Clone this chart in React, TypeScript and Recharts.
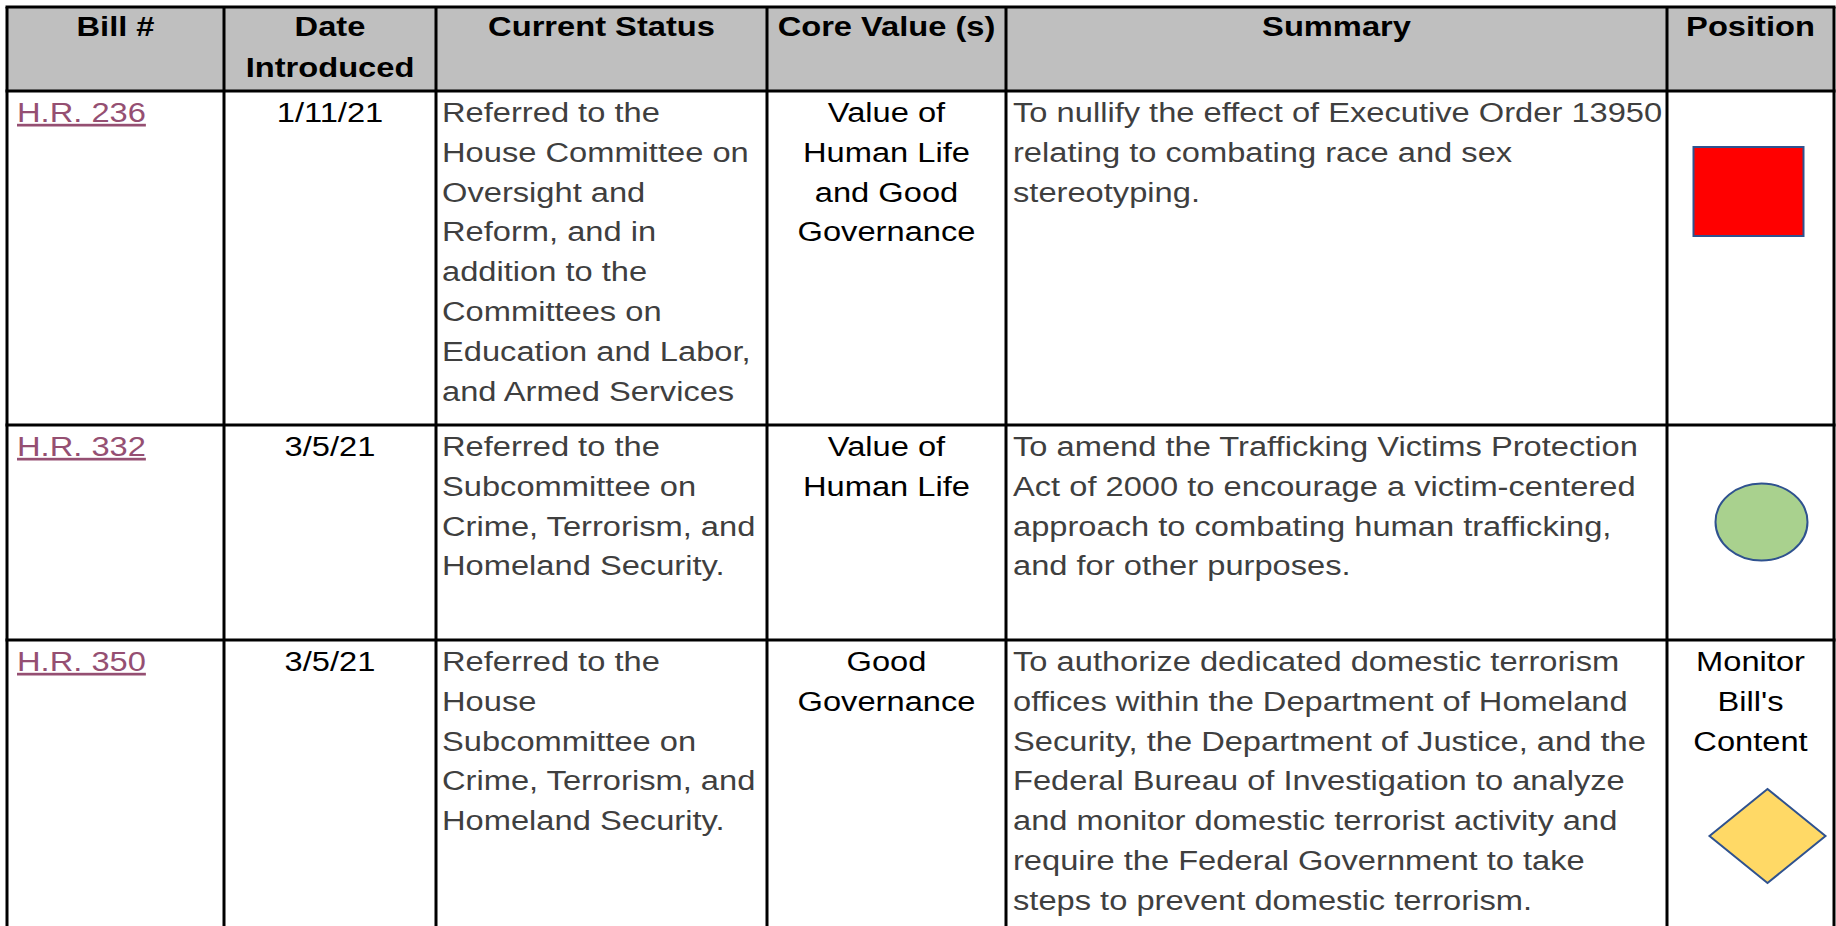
import React from 'react';
import { ScatterChart, Scatter, XAxis, YAxis, ReferenceArea, ReferenceLine } from 'recharts';

// ---------- content ----------
const headers: string[][] = [
  ['Bill #'],
  ['Date', 'Introduced'],
  ['Current Status'],
  ['Core Value (s)'],
  ['Summary'],
  ['Position'],
];
const bills: string[] = ['H.R. 236', 'H.R. 332', 'H.R. 350'];
const dates: string[] = ['1/11/21', '3/5/21', '3/5/21'];
const statuses: string[][] = [
  ['Referred to the', 'House Committee on', 'Oversight and', 'Reform, and in', 'addition to the', 'Committees on', 'Education and Labor,', 'and Armed Services'],
  ['Referred to the', 'Subcommittee on', 'Crime, Terrorism, and', 'Homeland Security.'],
  ['Referred to the', 'House', 'Subcommittee on', 'Crime, Terrorism, and', 'Homeland Security.'],
];
const coreValues: string[][] = [
  ['Value of', 'Human Life', 'and Good', 'Governance'],
  ['Value of', 'Human Life'],
  ['Good', 'Governance'],
];
const summaries: string[][] = [
  ['To nullify the effect of Executive Order 13950', 'relating to combating race and sex', 'stereotyping.'],
  ['To amend the Trafficking Victims Protection', 'Act of 2000 to encourage a victim-centered', 'approach to combating human trafficking,', 'and for other purposes.'],
  ['To authorize dedicated domestic terrorism', 'offices within the Department of Homeland', 'Security, the Department of Justice, and the', 'Federal Bureau of Investigation to analyze', 'and monitor domestic terrorist activity and', 'require the Federal Government to take', 'steps to prevent domestic terrorism.'],
];
const positions: string[] = ['oppose', 'support', 'monitor'];
const positionNotes: string[][] = [[], [], ['Monitor', "Bill's", 'Content']];

// ---------- layout ----------
const W = 1836;
const H = 926;
const colEdges = [7, 224, 436, 767, 1006, 1667, 1834];
const headerTop = 7;
const rowTops = [91, 425, 640];
const tableBottom = 926;
const FIRST_BASE = 31;
const LH = 39.8;
const SX = 1.21;
const FONT = "'Liberation Sans', Arial, Helvetica, sans-serif";
const FS = 27;

const colCenter = (i: number) => (colEdges[i] + colEdges[i + 1]) / 2;
const colLeft = (i: number) => colEdges[i] + 9;
const iconCenters = [
  { dx: -2, dy: 100.5 },
  { dx: 11, dy: 97 },
  { dx: 17, dy: 196 },
];

const TextCell = (props: any) => {
  const { cx, cy, payload, anchor, color, bold, link, lh } = props;
  if (cx == null || cy == null) return null;
  return (
    <g transform={`translate(${cx},${cy}) scale(${SX},1)`}>
      <text
        x={0}
        y={0}
        textAnchor={anchor}
        fontFamily={FONT}
        fontSize={FS}
        fontWeight={bold ? 700 : 400}
        fill={color}
        textDecoration={link ? 'underline' : undefined}
      >
        {payload.lines.map((l: string, i: number) => (
          <tspan key={i} x={0} dy={i === 0 ? 0 : lh || LH}>
            {l}
          </tspan>
        ))}
      </text>
    </g>
  );
};

const IconCell = (props: any) => {
  const { cx, cy, payload } = props;
  if (cx == null || cy == null) return null;
  const stroke = '#2F528F';
  if (payload.kind === 'oppose') {
    return <rect x={cx - 55} y={cy - 44.5} width={110} height={89} fill="#FF0000" stroke={stroke} strokeWidth={2} />;
  }
  if (payload.kind === 'support') {
    return <ellipse cx={cx} cy={cy} rx={46} ry={38.5} fill="#A9D18E" stroke={stroke} strokeWidth={2} />;
  }
  return (
    <polygon
      points={`${cx},${cy - 47} ${cx + 58},${cy} ${cx},${cy + 47} ${cx - 58},${cy}`}
      fill="#FFD966"
      stroke={stroke}
      strokeWidth={2}
    />
  );
};

const headerData = headers.map((lines, i) => ({ x: colCenter(i), y: headerTop + 29, lines }));
const billData = bills.map((b, i) => ({ x: colLeft(0) + 1, y: rowTops[i] + FIRST_BASE, lines: [b] }));
const dateData = dates.map((d, i) => ({ x: colCenter(1), y: rowTops[i] + FIRST_BASE, lines: [d] }));
const statusData = statuses.map((s, i) => ({ x: colLeft(2) - 3, y: rowTops[i] + FIRST_BASE, lines: s }));
const coreData = coreValues.map((c, i) => ({ x: colCenter(3), y: rowTops[i] + FIRST_BASE, lines: c }));
const summaryData = summaries.map((s, i) => ({ x: colLeft(4) - 2, y: rowTops[i] + FIRST_BASE, lines: s }));
const noteData = positionNotes
  .map((n, i) => ({ x: colCenter(5), y: rowTops[i] + FIRST_BASE, lines: n }))
  .filter((d) => d.lines.length > 0);
const iconData = positions.map((p, i) => ({
  x: colCenter(5) + iconCenters[i].dx,
  y: rowTops[i] + iconCenters[i].dy,
  kind: p,
}));

const hLines = [headerTop, ...rowTops];

export default function App() {
  return (
    <div style={{ position: 'absolute', left: 0, top: 0, width: W, height: H, background: '#fff' }}>
      <ScatterChart width={W} height={H} margin={{ top: 0, right: 0, bottom: 0, left: 0 }}>
        <XAxis type="number" dataKey="x" domain={[0, W]} hide allowDataOverflow />
        <YAxis type="number" dataKey="y" domain={[0, H]} reversed hide allowDataOverflow />
        <ReferenceArea
          x1={colEdges[0]}
          x2={colEdges[colEdges.length - 1]}
          y1={headerTop}
          y2={rowTops[0]}
          fill="#BFBFBF"
          fillOpacity={1}
          stroke="none"
        />
        {hLines.map((y, i) => (
          <ReferenceLine
            key={`h${i}`}
            segment={[
              { x: colEdges[0] - 1.5, y },
              { x: colEdges[colEdges.length - 1] + 1.5, y },
            ]}
            stroke="#000"
            strokeWidth={3}
          />
        ))}
        {colEdges.map((x, i) => (
          <ReferenceLine
            key={`v${i}`}
            segment={[
              { x, y: headerTop },
              { x, y: tableBottom },
            ]}
            stroke="#000"
            strokeWidth={3}
          />
        ))}
        <Scatter data={headerData} isAnimationActive={false} shape={(p: any) => <TextCell {...p} anchor="middle" color="#000" bold lh={41} />} />
        <Scatter data={billData} isAnimationActive={false} shape={(p: any) => <TextCell {...p} anchor="start" color="#954F72" link />} />
        <Scatter data={dateData} isAnimationActive={false} shape={(p: any) => <TextCell {...p} anchor="middle" color="#000" />} />
        <Scatter data={statusData} isAnimationActive={false} shape={(p: any) => <TextCell {...p} anchor="start" color="#3F3F3F" />} />
        <Scatter data={coreData} isAnimationActive={false} shape={(p: any) => <TextCell {...p} anchor="middle" color="#000" />} />
        <Scatter data={summaryData} isAnimationActive={false} shape={(p: any) => <TextCell {...p} anchor="start" color="#3F3F3F" />} />
        <Scatter data={noteData} isAnimationActive={false} shape={(p: any) => <TextCell {...p} anchor="middle" color="#000" />} />
        <Scatter data={iconData} isAnimationActive={false} shape={(p: any) => <IconCell {...p} />} />
      </ScatterChart>
    </div>
  );
}
